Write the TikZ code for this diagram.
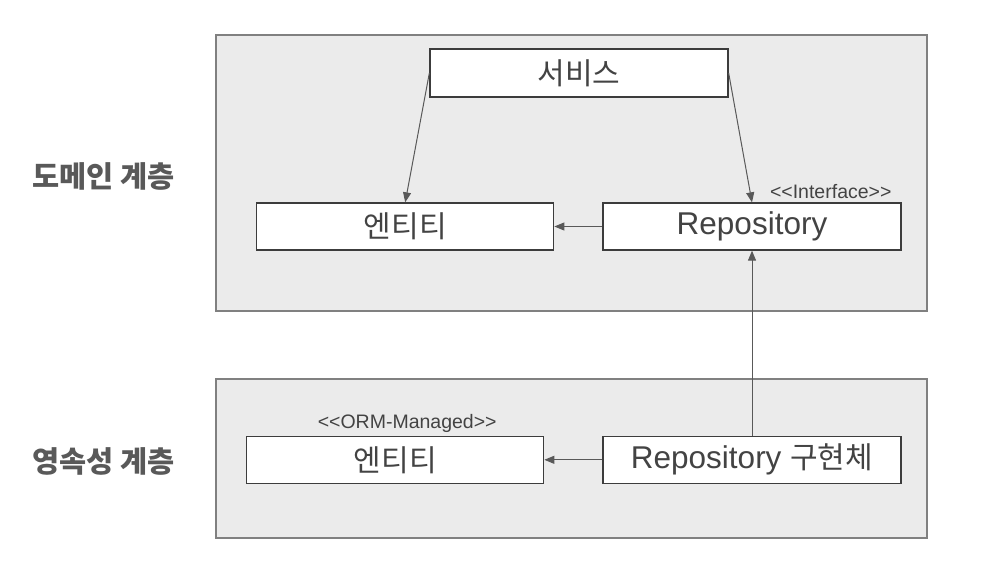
\documentclass[tikz,border=0pt]{standalone}
\usepackage{fontspec}
\setmainfont{Liberation Sans}
\newfontfamily\kr{Noto Sans CJK KR}
\usepackage{tikz}
\usetikzlibrary{positioning,arrows.meta}
\definecolor{layerfill}{HTML}{EBEBEB}
\definecolor{layerline}{HTML}{808080}
\definecolor{boxline}{HTML}{3C3C3C}
\definecolor{txt}{HTML}{434343}
\definecolor{lbl}{HTML}{595959}
\tikzset{
  layer/.style={rectangle, minimum width=711pt, draw=layerline, line width=1.6pt, fill=layerfill},
  cls/.style={rectangle, minimum width=298pt, minimum height=47pt, inner sep=0pt, text centered, draw=boxline, line width=1.3pt, fill=white, text=txt, font=\fontsize{31.5}{34}\selectfont},
  krtxt/.style={font=\kr\fontsize{30}{34}\selectfont},
  stereo/.style={inner sep=1pt, text=txt, font=\fontsize{19.5}{22}\selectfont},
  lyr/.style={text=lbl, font=\kr\bfseries\fontsize{29.5}{32}\selectfont},
  dep/.style={-{Triangle[length=10pt,width=8pt]}, draw=lbl, line width=1pt},
  node distance=48pt
}
\begin{document}
\begin{tikzpicture}[x=1pt,y=-1pt]
	\useasboundingbox (0,0) rectangle (1006,586);
	\node[layer, minimum height=276pt] (domain) at (571.5,173) {};
	\node[layer, minimum height=159pt] (persist) at (571.5,458.5) {};
	\node[lyr] (domainlbl) at (103.5,176) {도메인 계층};
	\node[lyr] (persistlbl) at (103.5,461) {영속성 계층};
	%
	\node[cls, krtxt, minimum height=48pt] (service) at (579,73) {서비스};
	\node[cls] (repo) at (752,226.5) {Repository};
	\node[cls, krtxt, minimum width=297pt, left=of repo] (entity) {엔티티};
	\node[cls, below=185pt of repo] (repoimpl) {Repository {\kr\fontsize{30}{34}\selectfont 구현체}};
	\node[cls, krtxt, minimum width=297pt, left=58pt of repoimpl] (ormentity) {엔티티};
	\node[stereo, anchor=south east] (iface) at ([xshift=-9pt,yshift=2pt]repo.north east) {<{}<Interface>{}>};
	\node[stereo, anchor=south] (orm) at ([xshift=12pt,yshift=2pt]ormentity.north) {<{}<ORM-Managed>{}>};
	%
	\draw[dep] (service.west) -- (entity.north);
	\draw[dep] (service.east) -- (repo.north);
	\draw[dep] (repo.west) -- (entity.east);
	\draw[dep] (repoimpl.north) -- (repo.south);
	\draw[dep] (repoimpl.west) -- (ormentity.east);
\end{tikzpicture}
\end{document}
